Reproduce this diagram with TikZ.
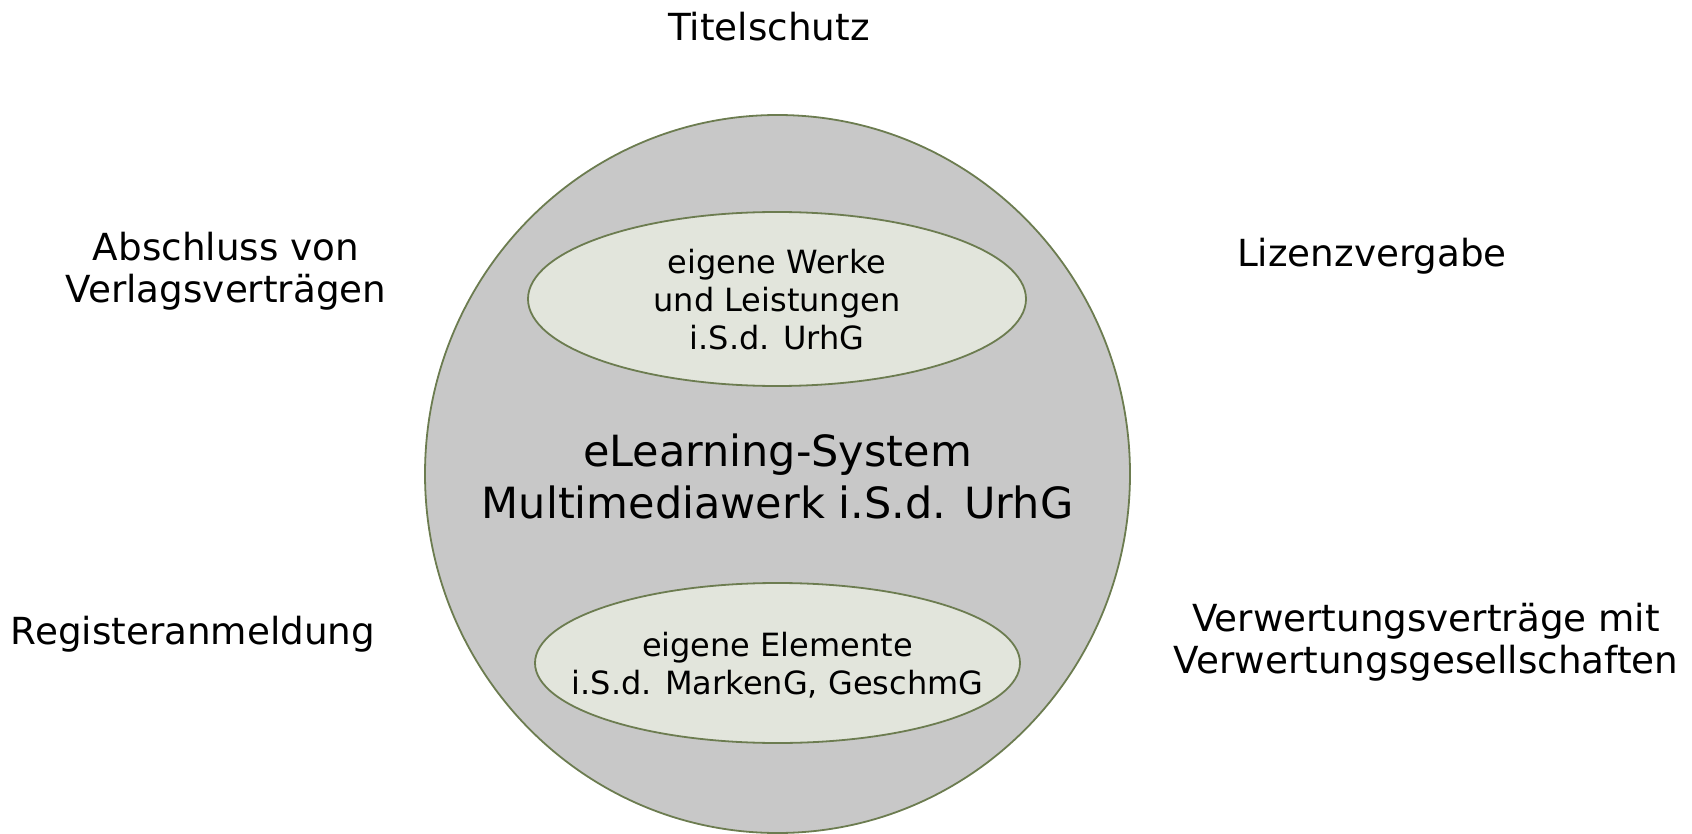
\documentclass[tikz,border=0pt]{standalone}
\usepackage{fontspec}
\setmainfont{DejaVu Sans}
\usetikzlibrary{shapes.geometric}
\definecolor{outerfill}{RGB}{200,200,200}
\definecolor{rim}{RGB}{108,124,80}
\definecolor{innerfill}{RGB}{226,229,220}
\tikzset{
  shell/.style={ellipse, draw=rim, line width=1.8pt, inner sep=0pt},
  outerlabel/.style={anchor=base, align=center, inner sep=0pt, font=\fontsize{37.3}{42}\selectfont},
  innerlabel/.style={anchor=base, align=center, inner sep=0pt, font=\fontsize{32}{38}\selectfont},
  centerlabel/.style={anchor=base, align=center, inner sep=0pt, font=\fontsize{43}{52}\selectfont}
}
\begin{document}
\begin{tikzpicture}[x=1pt, y=-1pt]
\useasboundingbox (0,0) rectangle (1692,834);
\node[shell, fill=outerfill, minimum width=705pt, minimum height=718pt] (sys) at (777.5,474) {};
\node[shell, fill=innerfill, minimum width=498pt, minimum height=174pt] (werke) at (777,299) {};
\node[shell, fill=innerfill, minimum width=485pt, minimum height=160pt] (elem) at (777.5,663) {};
\node[centerlabel] (syst) at (777.5,518) {eLearning-System\\Multimediawerk i.S.d. UrhG};
\node[innerlabel] (werket) at (777,349) {eigene Werke\\und Leistungen\\i.S.d. UrhG};
\node[innerlabel] (elemt) at (777.5,694) {eigene Elemente\\i.S.d. MarkenG, GeschmG};
\node[outerlabel] (titel) at (769,41) {Titelschutz};
\node[outerlabel] (verlag) at (226,302) {Abschluss von\\Verlagsverträgen};
\node[outerlabel] (lizenz) at (1372,267) {Lizenzvergabe};
\node[outerlabel] (register) at (193,644) {Registeranmeldung};
\node[outerlabel] (verwert) at (1426,673) {Verwertungsverträge mit\\Verwertungsgesellschaften};
\end{tikzpicture}
\end{document}
